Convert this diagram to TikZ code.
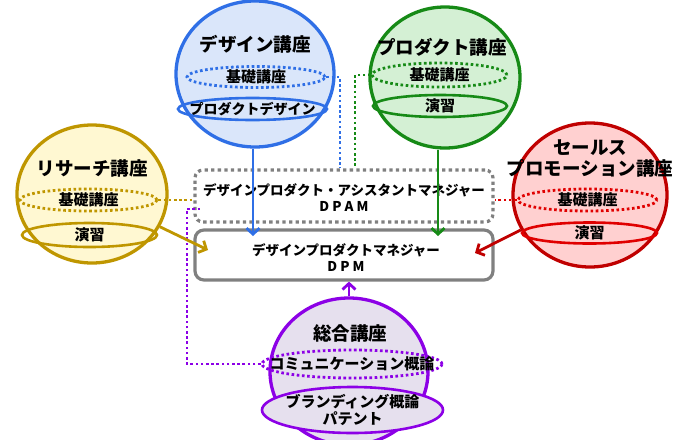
\documentclass[tikz,border=0pt]{standalone}
\usepackage{fontspec}
\setmainfont{Noto Sans CJK JP}
\usetikzlibrary{shapes.geometric,arrows.meta}
\definecolor{bS}{HTML}{2F6FE6}\definecolor{bF}{HTML}{DAE6FA}
\definecolor{gS}{HTML}{168A16}\definecolor{gF}{HTML}{D4F0D4}
\definecolor{yS}{HTML}{BF9600}\definecolor{yF}{HTML}{FFF8D2}
\definecolor{rS}{HTML}{C00000}\definecolor{rS2}{HTML}{E00000}\definecolor{rF}{HTML}{FFD0D0}
\definecolor{pS}{HTML}{8C00E6}\definecolor{pF}{HTML}{E6E0EE}
\definecolor{boxG}{HTML}{808080}
\begin{document}
\begin{tikzpicture}[x=1pt,y=-1pt,
  ball/.style={ellipse, draw, line width=3.3pt, inner sep=0pt},
  ring/.style={ellipse, draw, line width=2.6pt, inner sep=0pt},
  dring/.style={ellipse, draw, line width=2.8pt, inner sep=0pt, dash pattern=on 2.6pt off 2.6pt},
  dots/.style={line width=2.8pt, dash pattern=on 2.6pt off 2.6pt},
  ttl/.style={font=\fontsize{18.5}{21}\selectfont\bfseries, align=center, inner sep=0pt},
  lbl/.style={font=\fontsize{15}{17}\selectfont\bfseries, align=center, inner sep=0pt},
  sml/.style={font=\fontsize{13.5}{16}\selectfont\bfseries, align=center, inner sep=0pt},
  conn/.style={line width=2.8pt, -{Straight Barb[length=6pt,width=13pt]}},
  mbox/.style={draw=boxG, rounded corners=9pt, line width=3.2pt, minimum width=298pt, inner sep=0pt}
]
\useasboundingbox (0,0) rectangle (676,439);

% ---- design ----
\node[ball, draw=bS, fill=bF, minimum width=158pt, minimum height=146pt] (design) at (255,74) {};
\node[dring, draw=bS, minimum width=138pt, minimum height=21pt] (dD) at (256,77) {};
\node[ring, draw=bS, minimum width=149pt, minimum height=22pt] (dR) at (252.5,109) {};
\node[ttl] (dT) at (255,44) {デザイン講座};
\node[lbl] (dDt) at (dD) {基礎講座};
\node[font=\fontsize{14}{16}\selectfont\bfseries, inner sep=0pt] (dRt) at (dR) {プロダクトデザイン};

% ---- product ----
\node[ball, draw=gS, fill=gF, minimum width=150pt, minimum height=141pt] (product) at (445,77.5) {};
\node[dring, draw=gS, minimum width=135pt, minimum height=24pt] (pD) at (439.5,75) {};
\node[ring, draw=gS, minimum width=134pt, minimum height=22pt] (pR) at (440,106) {};
\node[ttl] (pT) at (442,47) {プロダクト講座};
\node[lbl] (pDt) at (pD) {基礎講座};
\node[lbl] (pRt) at (pR) {演習};

% ---- research ----
\node[ball, draw=yS, fill=yF, minimum width=150pt, minimum height=138pt] (research) at (92,194) {};
\node[dring, draw=yS, minimum width=137pt, minimum height=22pt] (rD) at (88.5,200) {};
\node[ring, draw=yS, minimum width=135pt, minimum height=24pt] (rR) at (89.5,235) {};
\node[ttl] (rT) at (92,168) {リサーチ講座};
\node[lbl] (rDt) at (rD) {基礎講座};
\node[lbl] (rRt) at (rR) {演習};

% ---- sales ----
\node[ball, draw=rS, fill=rF, minimum width=154pt, minimum height=144pt] (sales) at (590,195) {};
\node[dring, draw=rS2, minimum width=139pt, minimum height=22pt] (sD) at (587.5,200) {};
\node[ring, draw=rS2, minimum width=135pt, minimum height=21pt] (sR) at (589.5,233) {};
\node[ttl] (sT) at (590,158.5) {セールス\\プロモーション講座};
\node[lbl] (sDt) at (sD) {基礎講座};
\node[lbl] (sRt) at (sR) {演習};

% ---- comprehensive ----
\node[ball, draw=pS, fill=pF, minimum width=158pt, minimum height=147pt] (comp) at (349,371.5) {};
\node[dring, draw=pS, minimum width=180pt, minimum height=28pt] (cD) at (352,364) {};
\node[ring, draw=pS, fill=pF, minimum width=181pt, minimum height=46pt] (cR) at (352.5,410) {};
\node[ttl] (cT) at (350,333) {総合講座};
\node[lbl] (cDt) at (cD) {コミュニケーション概論};
\node[lbl] (cRt) at (cR) {ブランディング概論\\パテント};

% ---- boxes ----
\node[mbox, dash pattern=on 3.3pt off 3.3pt, rounded corners=8pt, minimum height=52pt] (dpam) at (344,196) {};
\node[sml] (dpamt) at (344,197.5) {デザインプロダクト・アシスタントマネジャー\\D P A M};
\node[mbox, fill=white, minimum height=50pt] (dpm) at (344,255) {};
\node[sml] (dpmt) at (346,258) {デザインプロダクトマネジャー\\D P M};

% ---- coordinates ----
\coordinate (bj) at (340,0);
\coordinate (gj) at (355,0);
\coordinate (pj) at (187,209);
\coordinate (pe) at (202,209);
\coordinate (bT) at (253,236);
\coordinate (gT) at (438,236);
\coordinate (yT) at (208,250);
\coordinate (rT2) at (475,253);

% ---- dotted connectors ----
\draw[dots, draw=bS] (dD.east) -| (bj |- dpam.north);
\draw[dots, draw=gS] (pD.west) -| (gj |- dpam.north);
\draw[dots, draw=yS] (rD.east) -- (rD.east -| dpam.west);
\draw[dots, draw=rS2] (sD.west) -- (sD.west -| dpam.east);
\draw[dots, draw=pS] (cD.west) -| (pj) -- (pe);

% ---- arrows ----
\draw[conn, draw=bS] (bT |- design.south) -- (bT);
\draw[conn, draw=gS] (gT |- product.south) -- (gT);
\draw[conn, draw=yS] (research) -- (yT);
\draw[conn, draw=rS] (sales) -- (rT2);
\draw[conn, draw=pS] (comp.north) -- (comp.north |- dpm.south);
\end{tikzpicture}
\end{document}
